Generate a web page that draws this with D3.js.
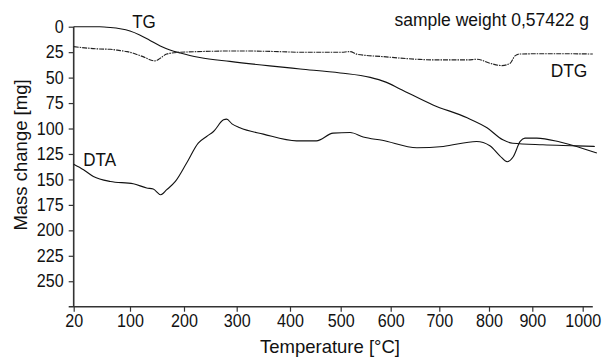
<!DOCTYPE html>
<html>
<head>
<meta charset="utf-8">
<script src="https://cdn.jsdelivr.net/npm/d3@7"></script>
<style>
  html, body { margin: 0; padding: 0; background: #fff; }
  svg { display: block; }
  text { font-family: "Liberation Sans", Arial, sans-serif; fill: #111; }
</style>
</head>
<body>
<svg id="chart" width="604" height="358"></svg>
<script>
// ---- data ----
const xTickValues = [20, 100, 200, 300, 400, 500, 600, 700, 800, 900, 1000];
const yTickValues = [0, 25, 50, 75, 100, 125, 150, 175, 200, 225, 250];

const tgTemp = [20, 57, 72, 86, 100, 118, 137, 156, 174, 193, 211, 230, 287, 362, 420, 499, 559, 589, 619, 687, 756, 796, 832, 855, 921, 989, 1024];
const tgMass = [0, 0.1, 0.8, 2, 4.2, 8.1, 13.5, 18.9, 22.8, 25.8, 28.2, 30.2, 34.1, 38.5, 41.5, 45.4, 49.8, 54.2, 61.1, 76.8, 89.5, 99.3, 111.1, 114.5, 116, 117, 117.6];

const dtgTemp = [20, 57, 72, 86, 96, 124, 146, 156, 168, 193, 306, 381, 420, 499, 519, 533, 585, 654, 687, 756, 776, 802, 830, 849, 860, 872, 940, 1020];
const dtgVal  = [19.6, 21.9, 22.2, 23.5, 24.5, 29.4, 33.6, 31, 26.8, 25.1, 23.8, 24.5, 25.1, 25.1, 24.5, 27.1, 29.4, 32, 32.6, 32.6, 32, 35.9, 38.2, 35.9, 28.7, 26.8, 26.5, 26.8];

const dtaTemp = [20, 34, 48, 72, 106, 131, 143, 157, 168, 184, 205, 227, 243, 256, 275, 281, 291, 306, 350, 413, 452, 485, 519, 545, 583, 654, 708, 775, 802, 825, 842, 856, 872, 883, 909, 955, 988, 1028];
const dtaVal  = [135.1, 140.5, 147.1, 152, 154.2, 158.4, 159.4, 165, 160.1, 152, 133.9, 114.3, 107.8, 102.9, 91.5, 90.8, 95.4, 99.3, 105.5, 112.1, 112.1, 104.5, 103.9, 108.3, 111.6, 118.9, 117.6, 112.7, 116.9, 126.8, 132.6, 127.7, 112.7, 109.4, 109.4, 113.3, 117.6, 124.1];

// ---- layout ----
const svg = d3.select("#chart");
// the instrument's temperature axis is not linear: piecewise scale through the tick marks
const xDomain = [20, 100, 200, 300, 400, 500, 600, 700, 800, 900, 1000, 1020];
const xRange  = [73.7, 130, 184, 236.7, 290, 340.7, 390.7, 439.3, 489, 532.3, 582.7, 592.8];
const x = d3.scaleLinear().domain(xDomain).range(xRange);
const y = d3.scaleLinear().domain([0, 275]).range([26.7, 306.7]);

// horizontally condensed text (the reference uses a narrow face)
function condense(sel, f) {
  sel.each(function () {
    const w = this.getComputedTextLength();
    d3.select(this).attr("textLength", w * f).attr("lengthAdjust", "spacingAndGlyphs");
  });
}

// axes
const gx = svg.append("g").attr("transform", `translate(0,${y(275)})`)
  .call(d3.axisBottom(x).tickValues(xTickValues).tickSize(5).tickSizeOuter(0).tickPadding(3).tickFormat(d3.format("d")));
gx.select(".domain").attr("d", `M${x(20) - 5},0H${x(1020)}`);
const gy = svg.append("g").attr("transform", `translate(${x(20)},0)`)
  .call(d3.axisLeft(y).tickValues(yTickValues).tickSize(5).tickSizeOuter(0).tickPadding(5));
gy.select(".domain").attr("d", `M0,${y(0)}V${y(275)}`);

[gx, gy].forEach(g => {
  g.selectAll(".domain").attr("stroke", "#333").attr("stroke-width", 1.6);
  g.selectAll(".tick line").attr("stroke", "#333").attr("stroke-width", 1.2);
  g.selectAll(".tick text").attr("font-size", 17.5).attr("font-family", null).style("fill", "#111");
  condense(g.selectAll(".tick text"), 0.92);
});

// curves
const line = (xs, ys) => d3.line().x((d, i) => x(xs[i])).y((d, i) => y(ys[i])).curve(d3.curveMonotoneX)(xs);

svg.append("path").attr("d", line(tgTemp, tgMass))
  .attr("fill", "none").attr("stroke", "#111").attr("stroke-width", 1.1);
svg.append("path").attr("d", line(dtgTemp, dtgVal))
  .attr("fill", "none").attr("stroke", "#222").attr("stroke-width", 1.1).attr("stroke-dasharray", "5,1,1.5,1");
svg.append("path").attr("d", line(dtaTemp, dtaVal))
  .attr("fill", "none").attr("stroke", "#111").attr("stroke-width", 1.1);

// labels
condense(svg.append("text").attr("x", 144).attr("y", 28).attr("text-anchor", "middle").attr("font-size", 18.5).text("TG"), 0.92);
condense(svg.append("text").attr("x", 99.7).attr("y", 165.7).attr("text-anchor", "middle").attr("font-size", 18.5).text("DTA"), 0.92);
condense(svg.append("text").attr("x", 569).attr("y", 76.7).attr("text-anchor", "middle").attr("font-size", 18.5).text("DTG"), 0.94);
svg.append("text").attr("x", 589).attr("y", 26).attr("text-anchor", "end").attr("font-size", 17.5).text("sample weight 0,57422 g");

svg.append("text").attr("transform", `translate(27,155) rotate(-90)`).attr("text-anchor", "middle")
  .attr("font-size", 18.5).text("Mass change [mg]");
svg.append("text").attr("x", 330).attr("y", 353).attr("text-anchor", "middle")
  .attr("font-size", 18.5).text("Temperature [°C]");
</script>
</body>
</html>
